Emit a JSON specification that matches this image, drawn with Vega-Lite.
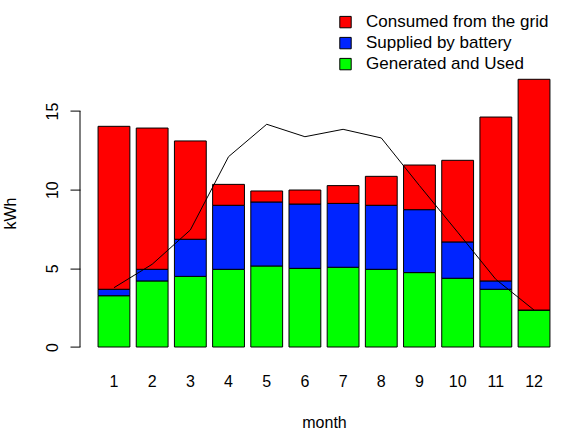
{
  "$schema": "https://vega.github.io/schema/vega-lite/v6.json",
  "autosize": "none",
  "padding": {"left": 80, "top": 68.6, "right": 7, "bottom": 92},
  "width": 488,
  "height": 278.4,
  "background": "white",
  "config": {
    "view": {"stroke": null},
    "font": "Liberation Sans",
    "axis": {"labelFont": "Liberation Sans", "titleFont": "Liberation Sans", "labelColor": "black", "titleColor": "black", "titleFontWeight": "normal"}
  },
  "datasets": {
    "energy": [
      {"month": 1, "type": "Generated and Used", "kwh": 3.26},
      {"month": 1, "type": "Supplied by battery", "kwh": 0.41},
      {"month": 1, "type": "Consumed from the grid", "kwh": 10.36},
      {"month": 2, "type": "Generated and Used", "kwh": 4.20},
      {"month": 2, "type": "Supplied by battery", "kwh": 0.74},
      {"month": 2, "type": "Consumed from the grid", "kwh": 8.98},
      {"month": 3, "type": "Generated and Used", "kwh": 4.49},
      {"month": 3, "type": "Supplied by battery", "kwh": 2.36},
      {"month": 3, "type": "Consumed from the grid", "kwh": 6.25},
      {"month": 4, "type": "Generated and Used", "kwh": 4.94},
      {"month": 4, "type": "Supplied by battery", "kwh": 4.07},
      {"month": 4, "type": "Consumed from the grid", "kwh": 1.33},
      {"month": 5, "type": "Generated and Used", "kwh": 5.15},
      {"month": 5, "type": "Supplied by battery", "kwh": 4.07},
      {"month": 5, "type": "Consumed from the grid", "kwh": 0.70},
      {"month": 6, "type": "Generated and Used", "kwh": 5.00},
      {"month": 6, "type": "Supplied by battery", "kwh": 4.09},
      {"month": 6, "type": "Consumed from the grid", "kwh": 0.89},
      {"month": 7, "type": "Generated and Used", "kwh": 5.07},
      {"month": 7, "type": "Supplied by battery", "kwh": 4.06},
      {"month": 7, "type": "Consumed from the grid", "kwh": 1.13},
      {"month": 8, "type": "Generated and Used", "kwh": 4.94},
      {"month": 8, "type": "Supplied by battery", "kwh": 4.07},
      {"month": 8, "type": "Consumed from the grid", "kwh": 1.84},
      {"month": 9, "type": "Generated and Used", "kwh": 4.73},
      {"month": 9, "type": "Supplied by battery", "kwh": 4.00},
      {"month": 9, "type": "Consumed from the grid", "kwh": 2.84},
      {"month": 10, "type": "Generated and Used", "kwh": 4.37},
      {"month": 10, "type": "Supplied by battery", "kwh": 2.31},
      {"month": 10, "type": "Consumed from the grid", "kwh": 5.19},
      {"month": 11, "type": "Generated and Used", "kwh": 3.67},
      {"month": 11, "type": "Supplied by battery", "kwh": 0.53},
      {"month": 11, "type": "Consumed from the grid", "kwh": 10.42},
      {"month": 12, "type": "Generated and Used", "kwh": 2.35},
      {"month": 12, "type": "Supplied by battery", "kwh": 0.0},
      {"month": 12, "type": "Consumed from the grid", "kwh": 14.67}
    ],
    "generated": [
      {"month": 1, "kwh": 3.77},
      {"month": 2, "kwh": 5.26},
      {"month": 3, "kwh": 7.44},
      {"month": 4, "kwh": 12.10},
      {"month": 5, "kwh": 14.16},
      {"month": 6, "kwh": 13.37},
      {"month": 7, "kwh": 13.84},
      {"month": 8, "kwh": 13.29},
      {"month": 9, "kwh": 10.26},
      {"month": 10, "kwh": 7.30},
      {"month": 11, "kwh": 4.30},
      {"month": 12, "kwh": 2.35}
    ],
    "yaxis": [{"lo": 0, "hi": 15}]
  },
  "encoding": {
    "x": {
      "field": "month",
      "type": "ordinal",
      "title": "month",
      "scale": {"paddingInner": 0.1667, "paddingOuter": 0.473},
      "axis": {
        "labelAngle": 0,
        "domain": false,
        "ticks": false,
        "tickSize": 0,
        "labelFontSize": 16,
        "labelBaseline": "alphabetic",
        "labelPadding": 39,
        "titleFontSize": 16,
        "titleBaseline": "alphabetic",
        "titleY": 80
      }
    }
  },
  "layer": [
    {
      "data": {"name": "energy"},
      "transform": [
        {"calculate": "indexof(['Generated and Used', 'Supplied by battery', 'Consumed from the grid'], datum.type)", "as": "stackorder"}
      ],
      "mark": {"type": "bar", "stroke": "black", "strokeWidth": 1},
      "encoding": {
        "y": {
          "field": "kwh",
          "type": "quantitative",
          "stack": "zero",
          "title": "kWh",
          "scale": {"domain": [0, 17.7], "nice": false},
          "axis": {
            "values": [0, 5, 10, 15],
            "grid": false,
            "domain": false,
            "tickColor": "black",
            "tickSize": 10,
            "labelAngle": -90,
            "labelAlign": "center",
            "labelBaseline": "alphabetic",
            "labelPadding": 13,
            "labelFontSize": 16,
            "titleFontSize": 16,
            "titleAngle": -90,
            "titleBaseline": "alphabetic",
            "titleX": -65,
            "titleY": 144.5
          }
        },
        "color": {
          "field": "type",
          "type": "nominal",
          "scale": {
            "domain": ["Consumed from the grid", "Supplied by battery", "Generated and Used"],
            "range": ["#ff0000", "#0024ff", "#00ff00"]
          },
          "legend": {
            "title": null,
            "orient": "none",
            "legendX": 257,
            "legendY": -55,
            "padding": 0,
            "symbolType": "square",
            "symbolSize": 130,
            "symbolStrokeColor": "black",
            "symbolStrokeWidth": 1,
            "symbolOpacity": 1,
            "labelFontSize": 17,
            "labelFont": "Liberation Sans",
            "labelColor": "black",
            "labelLimit": 0,
            "labelOffset": 12,
            "rowPadding": 3
          }
        },
        "order": {"field": "stackorder", "type": "quantitative"}
      }
    },
    {
      "data": {"name": "generated"},
      "mark": {"type": "line", "color": "black", "strokeWidth": 1},
      "encoding": {
        "y": {"field": "kwh", "type": "quantitative"}
      }
    },
    {
      "data": {"name": "yaxis"},
      "mark": {"type": "rule", "color": "black", "strokeWidth": 1},
      "encoding": {
        "x": {"value": 0},
        "y": {"field": "lo", "type": "quantitative"},
        "y2": {"field": "hi"}
      }
    }
  ]
}
